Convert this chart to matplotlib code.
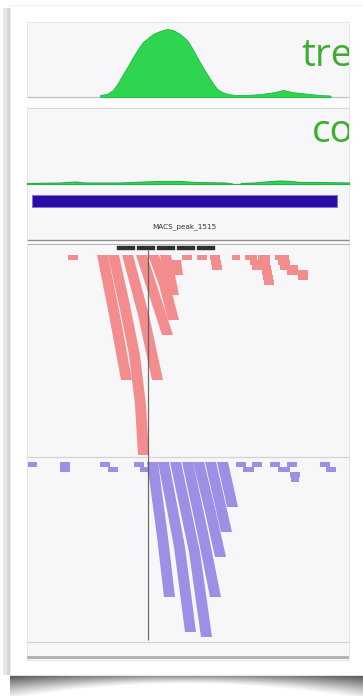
import numpy as np
import matplotlib.pyplot as plt
from matplotlib.patches import Rectangle

W, H = 363, 696

# genome window shown (same units as every position below)
view = (27, 349)
summit = 148

# coverage tracks
treat_pos = [100, 107, 113, 118, 123, 128, 133, 138, 143, 148, 153, 160, 167, 173, 180, 187,
             192, 197, 202, 207, 212, 217, 222, 228, 235, 245, 255, 265, 275, 283, 292, 300,
             310, 320, 330, 331]
treat_cov = [2, 3, 7, 14, 23, 31, 40, 48, 55, 59, 63, 66, 68, 67, 63, 57,
             49, 40, 31, 23, 15, 8, 5, 3, 2, 2, 2.5, 3.5, 5, 7, 5, 4,
             3, 2, 1.5, 0]
ctrl_pos = [27, 60, 75, 85, 120, 145, 160, 180, 195, 225, 232, 233, 240, 241, 255, 265,
            280, 290, 300, 320, 349]
ctrl_cov = [1, 1.5, 2.5, 1.5, 1.5, 2.5, 3, 3, 2, 1.5, 0.5, 0, 0, 1, 1.5, 2.5,
            3.5, 3, 2, 2, 1.5]

# called peak
peak_name = "MACS_peak_1515"
peak_start, peak_end = 32, 337

# downsampled markers above the reads
downsample_starts = [117, 137, 157, 177, 197]
downsample_len = 17.5

# forward reads: stacked columns given as (row, start) along their left edge
red_len = 11
red_stripes = [
    [(0, 97), (12, 109), (25, 121)],
    [(0, 108), (10, 119), (20, 129), (30, 135), (40, 138)],
    [(0, 122), (12, 138), (25, 152)],
    [(0, 136), (8, 149), (16, 162)],
    [(0, 148), (6, 159), (13, 168)],
    [(0, 160), (8, 168)],
    [(1, 170), (4, 172)],
]
red_single = [(68, 78, 0), (182, 192, 0), (197, 207, 0), (210, 220, 0), (211, 221, 1),
              (212, 222, 2), (232, 240, 0), (245, 257, 0), (250, 262, 1), (252, 263, 2),
              (258, 270, 0), (259, 270, 1), (260, 271, 2), (262, 272, 3), (263, 273, 4),
              (264, 274, 5), (275, 289, 0), (278, 290, 1), (280, 292, 2), (286, 298, 2),
              (287, 300, 3), (297, 308, 3), (298, 308, 4)]

# reverse reads
blue_len = 11
blue_stripes = [
    [(0, 147), (15, 157), (27, 164)],
    [(0, 158), (17, 174), (34, 185)],
    [(0, 170), (18, 189), (35, 201)],
    [(0, 182), (14, 197), (27, 210)],
    [(0, 193), (10, 205), (19, 215)],
    [(0, 205), (7, 213), (14, 221)],
    [(0, 217), (9, 227)],
]
blue_single = [(28, 37, 0), (60, 70, 0), (60, 70, 1), (100, 110, 0), (108, 118, 1),
               (134, 144, 0), (140, 148, 1), (236, 246, 0), (243, 254, 1), (252, 262, 0),
               (270, 280, 0), (278, 290, 1), (287, 297, 0), (290, 300, 2), (291, 299, 3),
               (320, 330, 0), (326, 336, 1)]

green = '#2ed650'
green_edge = '#20b443'
green_text = '#3cae2c'
red = '#f38d8d'
blue = '#9d8ee6'

fig = plt.figure(figsize=(W / 100, H / 100), dpi=100)


def px_axes(x0, y0, x1, y1):
    ax = fig.add_axes([x0 / W, 1 - y1 / H, (x1 - x0) / W, (y1 - y0) / H])
    ax.set_axis_off()
    return ax


# page, card and shadows
bg = px_axes(0, 0, W, H)
bg.set_xlim(0, W)
bg.set_ylim(H, 0)
bg.add_patch(Rectangle((3, 8), 7, 667, color='#e6e6e6', lw=0))
bg.add_patch(Rectangle((7, 8), 3, 667, color='#d6d6d6', lw=0))
bg.add_patch(Rectangle((10, 5), 353, 670, facecolor='white', edgecolor='#eeeeee', lw=0.6))

xs = np.arange(10, 363) + 0.5
ys = np.arange(675, 696) + 0.5
u = (xs - 186) / 177
thick = 9 + 16 * u ** 2
t = (ys[:, None] - 675) / thick[None, :]
alpha = np.clip(1 - t, 0, 1) ** 1.2 * (0.5 + 0.2 * u[None, :] ** 2)
rgba = np.zeros((len(ys), len(xs), 4))
rgba[..., 3] = alpha
bg.imshow(rgba, extent=(10, 363, 696, 675), aspect='auto', interpolation='bilinear')

# browser panel
bg.add_patch(Rectangle((27, 22), 322, 638, facecolor='#f7f7f9', edgecolor='#e4e4e4', lw=0.6))
bg.add_patch(Rectangle((27, 97), 322, 11, color='#fdfdfd', lw=0))
bg.hlines(97, 27, 349, color='#c4c4c4', lw=1.0)
bg.hlines(108, 27, 349, color='#d6d6d6', lw=0.8)
bg.add_patch(Rectangle((27, 240), 322, 4, color='#fcfcfc', lw=0))
bg.hlines(240, 27, 349, color='#8e8e8e', lw=1.0)
bg.hlines(244, 27, 349, color='#b5b5b5', lw=0.8)
bg.hlines(457, 27, 349, color='#d0d0d0', lw=0.8)
bg.hlines(642, 27, 349, color='#d2d2d2', lw=0.8)
bg.add_patch(Rectangle((27, 656), 322, 3, color='#b4b4b4', lw=0))

# treatment coverage
ax_t = px_axes(27, 22, 349, 97)
ax_t.set_xlim(*view)
ax_t.set_ylim(0, 75)
ax_t.fill_between(treat_pos, treat_cov, color=green, edgecolor=green_edge, lw=0.6)
ax_t.text(301, 31, 'tre', fontsize=28, family=['Open Sans', 'DejaVu Sans'],
          color=green_text, va='baseline', clip_on=True)

# control coverage
ax_c = px_axes(27, 110, 349, 184)
ax_c.set_xlim(*view)
ax_c.set_ylim(0, 74)
ax_c.fill_between(ctrl_pos, ctrl_cov, color=green, edgecolor=green_edge, lw=0.8)
ax_c.text(312, 42, 'co', fontsize=28, family=['Open Sans', 'DejaVu Sans'],
          color=green_text, va='baseline', clip_on=True)

# peak feature
ax_f = px_axes(27, 188, 349, 240)
ax_f.set_xlim(*view)
ax_f.set_ylim(52, 0)
ax_f.broken_barh([(peak_start, peak_end - peak_start)], (7, 12),
                 facecolor='#2a0ba6', edgecolor='#8070e0', lw=0.6)
ax_f.text((peak_start + peak_end) / 2, 39, peak_name, fontsize=5.2, color='#333333',
          ha='center', va='center')


def draw_stripe(ax, pts, length, color):
    rows = [r for r, _ in pts]
    lefts = [s for _, s in pts]
    px = lefts + [s + length for s in lefts[::-1]]
    py = rows + rows[::-1]
    ax.fill(px, py, color=color, lw=0)


# forward reads
ax_r = px_axes(27, 245, 349, 457)
ax_r.set_xlim(*view)
ax_r.set_ylim(40.4, -2)
ax_r.broken_barh([(s, downsample_len) for s in downsample_starts], (-1.9, 0.7), color='#303030')
for pts in red_stripes:
    draw_stripe(ax_r, pts, red_len, red)
for s, e, r in red_single:
    ax_r.barh(r + 0.5, e - s, left=s, height=0.9, color=red, lw=0)
ax_r.vlines(summit, -1, 40.4, color='#555555', lw=0.9, alpha=0.85)

# reverse reads
ax_b = px_axes(27, 457, 349, 642)
ax_b.set_xlim(*view)
ax_b.set_ylim(36, -1)
for pts in blue_stripes:
    draw_stripe(ax_b, pts, blue_len, blue)
for s, e, r in blue_single:
    ax_b.barh(r + 0.5, e - s, left=s, height=0.9, color=blue, lw=0)
ax_b.vlines(summit, -1, 35.6, color='#555555', lw=0.9, alpha=0.85)

fig.savefig('out.png', dpi=100)
